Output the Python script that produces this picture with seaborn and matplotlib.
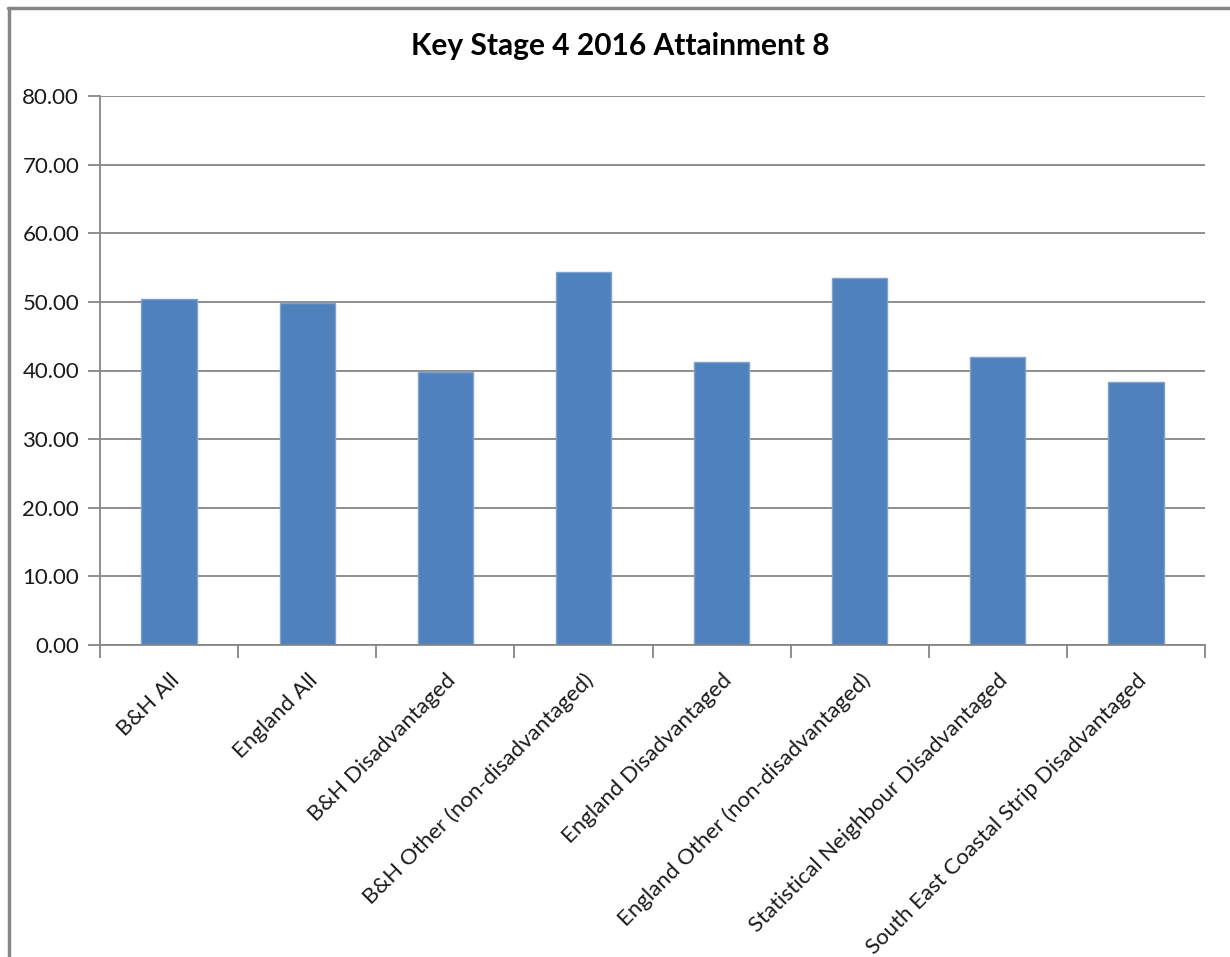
import matplotlib
matplotlib.use("Agg")
import matplotlib.pyplot as plt
import seaborn as sns
import pandas as pd
from matplotlib.lines import Line2D
from matplotlib.ticker import FixedLocator, FuncFormatter

categories = [
    "B&H All",
    "England All",
    "B&H Disadvantaged",
    "B&H Other (non-disadvantaged)",
    "England Disadvantaged",
    "England Other (non-disadvantaged)",
    "Statistical Neighbour Disadvantaged",
    "South East Coastal Strip Disadvantaged",
]
values = [50.4, 49.9, 39.8, 54.3, 41.2, 53.5, 41.9, 38.3]
y_ticks = [0, 10, 20, 30, 40, 50, 60, 70, 80]
title = "Key Stage 4 2016 Attainment 8"

sns.set_theme(style="white")
plt.rcParams["font.family"] = ["Lato", "DejaVu Sans"]

df = pd.DataFrame({"category": categories, "value": values})

W, H = 1230, 957
fig = plt.figure(figsize=(W / 100, H / 100), dpi=100)
ax = fig.add_axes([100 / W, 1 - 645 / H, (1205 - 100) / W, (645 - 96) / H])

grid_c = "#868686"
ax.set_axisbelow(True)
ax.yaxis.grid(True, color=grid_c, linewidth=1.3)
ax.xaxis.grid(False)

sns.barplot(data=df, x="category", y="value", ax=ax, color="#4F81BD",
            width=0.4, saturation=1, edgecolor="#7FA2CF", linewidth=1.0,
            errorbar=None)

ax.set_xlim(-0.5, len(categories) - 0.5)
ax.set_ylim(0, 80)
ax.yaxis.set_major_locator(FixedLocator(y_ticks))
ax.yaxis.set_major_formatter(FuncFormatter(lambda v, p: f"{v:.2f}"))
ax.set_xlabel("")
ax.set_ylabel("")

for s in ["top", "right"]:
    ax.spines[s].set_visible(False)
for s in ["left", "bottom"]:
    ax.spines[s].set_color(grid_c)
    ax.spines[s].set_linewidth(1.3)

ax.tick_params(axis="y", which="major", direction="out", length=9, width=1.3,
               color=grid_c, labelsize=16, labelcolor="#1a1a1a", pad=6, left=True)
# category ticks: labels at centers, tick marks at boundaries
ax.set_xticks(range(len(categories)))
ax.set_xticklabels(categories, rotation=45, ha="right", rotation_mode="anchor",
                   fontsize=16, color="#1a1a1a")
ax.tick_params(axis="x", which="major", length=0, pad=18)
ax.set_xticks([i - 0.5 for i in range(len(categories) + 1)], minor=True)
ax.tick_params(axis="x", which="minor", direction="out", length=9, width=1.3,
               color=grid_c, bottom=True)

fig.text(620 / W, 1 - 46 / H, title, ha="center", va="center",
         fontsize=21.5, fontweight="bold", color="black")

# outer chart-area border (left and top visible)
fig.add_artist(Line2D([9 / W, 9 / W], [0, 1 - 8 / H], transform=fig.transFigure,
                      color=grid_c, linewidth=2.5))
fig.add_artist(Line2D([8 / W, 1], [1 - 8 / H, 1 - 8 / H], transform=fig.transFigure,
                      color=grid_c, linewidth=2.5))

fig.savefig("out.png", dpi=100, facecolor="white")
